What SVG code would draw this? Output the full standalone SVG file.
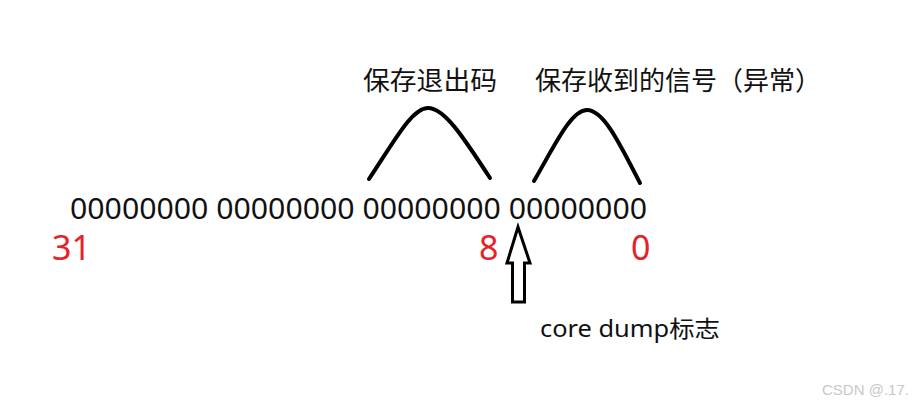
<svg xmlns="http://www.w3.org/2000/svg" width="923" height="406" viewBox="0 0 923 406">
<style>
.t{font-family:"Noto Sans","Noto Sans CJK SC",sans-serif;fill:#111}
.r{font-family:"Noto Sans",sans-serif;fill:#e8202a;font-size:34px}
.c{fill:none;stroke:#000;stroke-width:4;stroke-linecap:round}
</style>
<rect width="923" height="406" fill="#fff"/>
<g id="bits"><text class="t" x="70" y="219" font-size="29" textLength="577" lengthAdjust="spacingAndGlyphs">00000000 00000000 00000000 00000000</text></g>
<g id="idx31"><text class="r" x="52" y="260">31</text></g>
<g id="idx8"><text class="r" x="479" y="260">8</text></g>
<g id="idx0"><text class="r" x="631" y="260">0</text></g>
<g id="label-exit"><text class="t" x="363" y="90" font-size="26" textLength="134" lengthAdjust="spacingAndGlyphs">保存退出码</text></g>
<g id="label-signal"><text class="t" x="535" y="90" font-size="26" textLength="286" lengthAdjust="spacingAndGlyphs">保存收到的信号（异常）</text></g>
<g id="label-core"><text class="t" x="540" y="337" font-size="23" textLength="180" lengthAdjust="spacingAndGlyphs">core dump标志</text></g>
<g id="connectors">
<path class="c" d="M369,179 C395,140 412,108 428,108 C444,108 462,135 490,178"/>
<path class="c" d="M534,181 C555,145 571,110 587,110 C603,110 618,140 640,183"/>
<path d="M518,227 L530,263 L524.5,263 L524.5,302 L512.5,302 L512.5,263 L507,263 Z" fill="#fff" stroke="#000" stroke-width="3" stroke-linejoin="miter"/>
</g>
<g id="watermark"><text x="822" y="395" font-family="Liberation Sans, sans-serif" font-size="15" fill="#c8c8c8">CSDN @.17.</text></g>
</svg>
